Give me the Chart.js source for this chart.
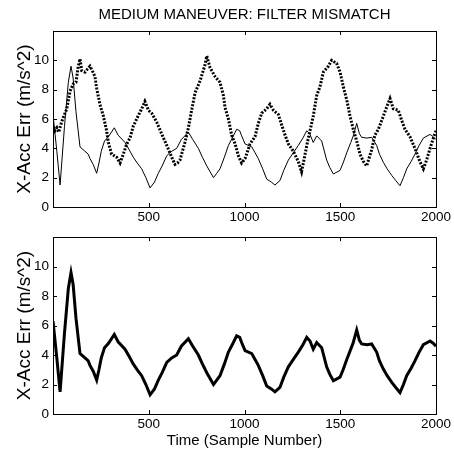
<!DOCTYPE html>
<html><head><meta charset="utf-8">
<script src="https://cdn.jsdelivr.net/npm/chart.js@4"></script>
<style>
html,body{margin:0;padding:0;background:#fff;}
#wrap{position:relative;width:454px;height:451px;overflow:hidden;background:#fff}
canvas{position:absolute;left:0}
</style></head><body>
<div id="wrap">
<canvas id="c1" width="454" height="225" style="top:0px"></canvas>
<canvas id="c2" width="454" height="226" style="top:225px"></canvas>
</div>
<script>
const chartTitle = 'MEDIUM MANEUVER: FILTER MISMATCH';
const xAxisTitle = 'Time (Sample Number)';
const yAxisTitle = 'X-Acc Err (m/s^2)';
const xTickValues = [0, 500, 1000, 1500, 2000];
const xTickLabels = ['', '500', '1000', '1500', '2000'];
const yTickValues = [0, 2, 4, 6, 8, 10, 12];
const yTickLabels = ['0', '2', '4', '6', '8', '10', ''];

const solidX = [0,20,37,60,80,94,105,120,141,167,184,193,210,228,240,252,269,290,320,340,376,398,419,440,463,485,507,530,550,570,594,620,646,670,707,730,759,780,803,838,855,872,895,916,940,959,975,985,1003,1038,1055,1072,1095,1116,1140,1159,1185,1205,1229,1255,1281,1305,1325,1342,1359,1377,1403,1429,1445,1464,1499,1515,1534,1555,1568,1586,1600,1612,1640,1664,1690,1705,1725,1745,1769,1790,1812,1830,1847,1870,1890,1912,1934,1969,1985,2000];
const solidY = [6.3,3.8,1.5,5.5,8.5,9.6,8.8,6.5,4.1,3.8,3.6,3.3,2.9,2.3,3.0,3.8,4.5,4.8,5.4,4.9,4.4,3.9,3.4,3.0,2.6,2.0,1.3,1.7,2.3,2.8,3.5,3.8,4.0,4.6,5.1,4.6,4.0,3.4,2.8,2.0,2.3,2.6,3.4,4.2,4.8,5.3,5.2,4.85,4.3,4.1,3.7,3.3,2.6,1.9,1.7,1.5,1.8,2.5,3.2,3.7,4.2,4.7,5.2,4.95,4.4,4.85,4.5,3.2,2.7,2.25,2.5,3.0,3.7,4.4,4.85,5.7,5.0,4.75,4.7,4.75,4.2,3.6,3.05,2.6,2.15,1.8,1.45,2.0,2.6,3.1,3.6,4.2,4.7,4.95,4.8,4.6];

const dotX = [0,10,20,30,45,54,72,89,106,120,132,141,150,167,180,193,205,219,228,245,263,280,289,306,320,332,350,367,385,402,419,437,463,480,498,515,541,567,594,620,637,650,663,689,707,724,742,768,794,803,820,846,872,890,898,916,933,951,968,985,1003,1029,1055,1072,1090,1116,1133,1151,1177,1194,1212,1229,1255,1281,1298,1312,1325,1342,1359,1377,1394,1412,1438,1455,1481,1499,1516,1534,1551,1568,1586,1603,1621,1638,1664,1681,1699,1725,1742,1760,1777,1803,1821,1838,1864,1890,1916,1934,1951,1969,1986,2000];
const dotY = [5.5,5.2,5.4,5.1,5.8,6.1,6.7,7.9,8.4,8.5,9.6,10.1,9.3,9.2,9.4,9.6,9.3,8.9,8.1,7.0,6.2,5.2,4.4,3.6,3.5,3.4,3.0,3.6,4.3,4.7,5.5,6.0,6.7,7.2,6.6,6.4,5.8,5.0,4.2,3.4,2.9,3.0,3.2,4.4,5.4,6.6,7.8,8.6,9.7,10.3,9.5,8.9,8.5,7.6,6.8,6.0,4.9,4.3,3.5,3.0,3.3,4.3,4.8,5.7,6.4,6.7,7.0,6.6,6.3,5.6,4.9,4.3,3.8,3.1,2.4,3.3,4.2,5.2,6.2,7.6,8.2,9.2,9.6,10.0,9.8,9.2,8.2,7.3,6.2,5.3,4.5,3.6,3.1,2.8,3.9,4.9,5.3,6.2,6.8,7.4,6.7,6.6,5.9,5.3,4.8,4.0,3.1,2.6,3.2,4.0,4.7,5.2];

const FONT = "'Liberation Sans', Arial, Helvetica, sans-serif";
Chart.defaults.font.family = FONT;
Chart.defaults.color = '#000';

const pts = (xs, ys) => xs.map((x, i) => ({x: x, y: ys[i]}));

const boxTicks = {
  id: 'boxTicks',
  afterDatasetsDraw(chart) {
    const ctx = chart.ctx, a = chart.chartArea;
    const xs = chart.scales.x, ys = chart.scales.y;
    const L = 4;
    ctx.save();
    ctx.strokeStyle = '#000';
    ctx.lineWidth = 1;
    ctx.strokeRect(Math.round(a.left) + 0.5, Math.round(a.top) + 0.5, Math.round(a.right - a.left), Math.round(a.bottom - a.top));
    ctx.beginPath();
    xTickValues.forEach(v => {
      const p = Math.round(xs.getPixelForValue(v)) + 0.5;
      ctx.moveTo(p, a.bottom); ctx.lineTo(p, a.bottom - L);
      ctx.moveTo(p, a.top); ctx.lineTo(p, a.top + L);
    });
    yTickValues.forEach(v => {
      const p = Math.round(ys.getPixelForValue(v)) + 0.5;
      ctx.moveTo(a.left, p); ctx.lineTo(a.left + L, p);
      ctx.moveTo(a.right, p); ctx.lineTo(a.right - L, p);
    });
    ctx.stroke();
    ctx.restore();
  }
};

function makeScales(xHeight, showXTitle) {
  return {
    x: {
      type: 'linear', min: 0, max: 2000,
      afterBuildTicks: s => { s.ticks = xTickValues.map(v => ({value: v})); },
      afterFit: s => { s.height = xHeight; },
      grid: {display: false, drawTicks: false},
      border: {display: false},
      ticks: {
        padding: 2.5, maxRotation: 0, autoSkip: false,
        font: {size: 13.5},
        callback: (v) => xTickLabels[xTickValues.indexOf(v)]
      },
      title: {display: showXTitle, text: xAxisTitle, font: {size: 15}, padding: {top: 0, bottom: 1}}
    },
    y: {
      type: 'linear', min: 0, max: 12,
      afterBuildTicks: s => { s.ticks = yTickValues.map(v => ({value: v})); },
      afterFit: s => { s.width = 53; },
      grid: {display: false, drawTicks: false},
      border: {display: false},
      ticks: {
        padding: 4, autoSkip: false,
        font: {size: 13.5},
        callback: (v) => yTickLabels[yTickValues.indexOf(v)]
      },
      title: {display: true, text: yAxisTitle, font: {size: 19}, padding: {top: 13.5, bottom: 0}}
    }
  };
}

new Chart(document.getElementById('c1'), {
  type: 'line',
  data: {
    datasets: [
      {data: pts(solidX, solidY), borderColor: '#000', borderWidth: 1, pointRadius: 0, tension: 0},
      {data: pts(dotX, dotY), borderColor: '#000', borderWidth: 3, borderDash: [2, 1.5], pointRadius: 0, tension: 0}
    ]
  },
  options: {
    responsive: false, animation: false, devicePixelRatio: 1,
    layout: {padding: {left: 0, right: 18, top: 0, bottom: 0}},
    plugins: {
      legend: {display: false}, tooltip: {enabled: false},
      title: {display: true, text: chartTitle, fullSize: false, color: '#000',
              font: {size: 15, weight: 'normal'}, padding: {top: 6, bottom: 7}}
    },
    scales: makeScales(18, false)
  },
  plugins: [boxTicks]
});

new Chart(document.getElementById('c2'), {
  type: 'line',
  data: {
    datasets: [
      {data: pts(solidX, solidY), borderColor: '#000', borderWidth: 3, pointRadius: 0, tension: 0}
    ]
  },
  options: {
    responsive: false, animation: false, devicePixelRatio: 1,
    layout: {padding: {left: 0, right: 18, top: 11, bottom: 0}},
    plugins: {legend: {display: false}, tooltip: {enabled: false}, title: {display: false}},
    scales: makeScales(37, true)
  },
  plugins: [boxTicks]
});
</script>
</body></html>
